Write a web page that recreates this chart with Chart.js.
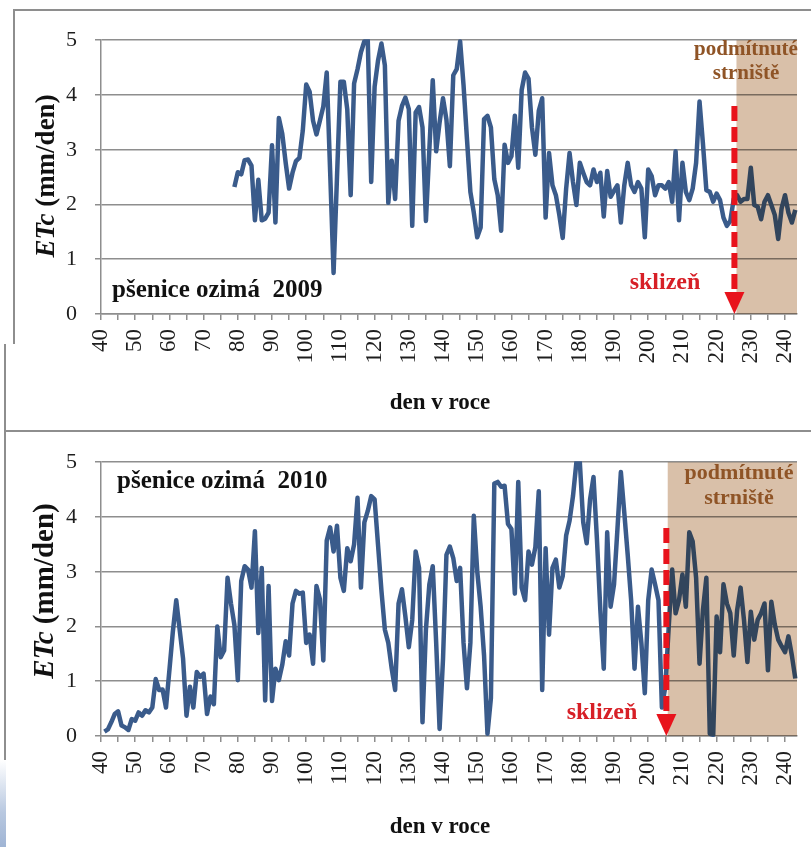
<!DOCTYPE html>
<html>
<head>
<meta charset="utf-8">
<script src="https://cdn.jsdelivr.net/npm/chart.js@4.4.1/dist/chart.umd.min.js"></script>
<style>
  body { margin: 0; width: 811px; height: 847px; background: #fff; position: relative; overflow: hidden; }
  canvas { position: absolute; }
  .ln { position: absolute; background: #8e8e8e; }
  .slide { position: absolute; left: 0; top: 760px; width: 6px; height: 87px;
           background: linear-gradient(#ffffff, #b8c8e0 60%, #9fb4d4); }
</style>
</head>
<body>
<div class="ln" style="left:13px;top:9px;width:798px;height:1.5px"></div>
<div class="ln" style="left:13px;top:9px;width:1.5px;height:335px"></div>
<div class="ln" style="left:4px;top:344px;width:1.5px;height:503px"></div>
<div class="ln" style="left:4px;top:430px;width:807px;height:1.5px"></div>
<div class="slide"></div>
<canvas id="c2009" width="798" height="421" style="left:13px;top:9px"></canvas>
<canvas id="c2010" width="807" height="416" style="left:4px;top:431px"></canvas>
<script>
// ETc (mm/den), one value per day of year
const start2009 = 79;
const etc2009 = [
  2.32, 2.59, 2.55, 2.81, 2.82, 2.71, 1.71, 2.45, 1.71, 1.74,
  1.85, 3.08, 1.67, 3.58, 3.29, 2.76, 2.29, 2.58, 2.79, 2.85,
  3.35, 4.19, 4.06, 3.53, 3.28, 3.53, 3.79, 4.41, 2.6, 0.75,
  2.5, 4.24, 4.24, 3.74, 2.17, 4.21, 4.47, 4.78, 4.98, 5.0,
  2.41, 4.15, 4.63, 4.94, 4.54, 2.03, 2.8, 2.1, 3.53, 3.8,
  3.95, 3.74, 1.61, 3.68, 3.78, 3.41, 1.70, 3.0, 4.27, 2.97,
  3.5, 3.94, 3.55, 2.70, 4.36, 4.47, 4.98, 4.18, 3.2, 2.23,
  1.85, 1.40, 1.58, 3.56, 3.62, 3.41, 2.46, 2.17, 1.52, 3.09,
  2.76, 2.88, 3.62, 2.67, 4.09, 4.41, 4.30, 3.41, 2.91, 3.71,
  3.94, 1.76, 2.94, 2.35, 2.17, 1.81, 1.39, 2.29, 2.94, 2.41,
  1.99, 2.76, 2.58, 2.41, 2.35, 2.64, 2.41, 2.58, 1.78, 2.61,
  2.14, 2.25, 2.35, 1.67, 2.35, 2.76, 2.35, 2.23, 2.41, 2.29,
  1.40, 2.64, 2.52, 2.17, 2.35, 2.35, 2.29, 2.41, 2.05, 2.97,
  1.71, 2.76, 2.23, 2.08, 2.29, 2.76, 3.88, 3.11, 2.26, 2.23,
  2.05, 2.2, 2.08, 1.76, 1.61, 1.70, 2.1, 2.17, 2.05, 2.1,
  2.1, 2.67, 1.99, 1.96, 1.73, 2.05, 2.17, 1.99, 1.81, 1.37,
  1.93, 2.17, 1.85, 1.67, 1.90
];

const start2010 = 41;
const etc2010 = [
  0.08, 0.12, 0.25, 0.40, 0.45, 0.19, 0.16, 0.11, 0.31, 0.28,
  0.43, 0.37, 0.47, 0.43, 0.52, 1.04, 0.84, 0.85, 0.52, 1.2,
  1.9, 2.48, 1.94, 1.41, 0.37, 0.9, 0.52, 1.17, 1.08, 1.14,
  0.40, 0.72, 0.58, 2.0, 1.44, 1.56, 2.89, 2.42, 2.03, 1.02,
  2.83, 3.10, 3.04, 2.71, 3.74, 1.88, 3.07, 0.65, 2.74, 0.64,
  1.23, 1.02, 1.3, 1.73, 1.47, 2.42, 2.65, 2.6, 2.62, 1.70,
  1.85, 1.32, 2.74, 2.5, 1.38, 3.57, 3.81, 3.37, 3.84, 2.89,
  2.65, 3.43, 3.19, 3.5, 4.35, 2.71, 3.90, 4.11, 4.38, 4.32,
  3.49, 2.65, 1.94, 1.70, 1.23, 0.84, 2.42, 2.68, 2.18, 1.62,
  2.12, 3.37, 3.07, 0.25, 1.94, 2.77, 3.10, 1.70, 0.13, 1.41,
  3.31, 3.46, 3.25, 2.83, 3.07, 1.70, 0.87, 1.70, 4.02, 3.01,
  2.36, 1.47, 0.04, 0.69, 4.61, 4.64, 4.55, 4.57, 3.87, 3.78,
  2.60, 4.64, 2.71, 2.48, 3.37, 3.13, 3.45, 4.47, 0.84, 3.43,
  1.85, 3.07, 3.22, 2.71, 2.92, 3.66, 3.93, 4.38, 5.0, 5.0,
  3.90, 3.52, 4.32, 4.73, 3.60, 2.30, 1.23, 3.72, 2.36, 2.77,
  3.78, 4.82, 4.08, 3.31, 2.48, 1.23, 2.36, 1.70, 0.78, 2.48,
  3.04, 2.77, 2.48, 0.52, 0.9, 2.0, 3.04, 2.24, 2.48, 2.95,
  2.36, 3.72, 3.55, 2.89, 1.32, 2.30, 2.89, 0.04, 0.02, 2.18,
  1.53, 2.77, 2.42, 2.24, 1.47, 2.30, 2.71, 2.12, 1.35, 2.27,
  1.76, 2.12, 2.24, 2.42, 1.20, 2.45, 2.04, 1.76, 1.64, 1.53,
  1.82, 1.47, 1.05
];

const dayMin = 40, dayMax = 243.5;
const etcMax = 5;

const SERIF = '"Liberation Serif", "Times New Roman", serif';
const GRID = '#8e8e8e';

function label(ctx, str, x, y, size, color, align) {
  ctx.font = 'bold ' + size + 'px ' + SERIF;
  ctx.fillStyle = color;
  ctx.textAlign = align || 'center';
  ctx.textBaseline = 'middle';
  ctx.fillText(str, x, y);
}

// shading, harvest arrow and all the free texts
const overlay = {
  id: 'overlay',
  afterDatasetsDraw(chart, args, o) {
    const { ctx, chartArea: a, scales: { x, y } } = chart;
    const ox = o.left, oy = o.top;
    ctx.save();

    ctx.globalCompositeOperation = 'multiply';
    ctx.fillStyle = '#d9c0a9';
    const sx = x.getPixelForValue(o.shadeFrom);
    ctx.fillRect(sx, a.top, a.right - sx, a.bottom - a.top);
    ctx.globalCompositeOperation = 'source-over';

    const hx = x.getPixelForValue(o.harvest);
    const top = y.getPixelForValue(o.arrowTop);
    const tip = y.getPixelForValue(0);
    ctx.strokeStyle = '#e8131c';
    ctx.lineWidth = 6;
    ctx.setLineDash([15, 6]);
    ctx.beginPath();
    ctx.moveTo(hx, top);
    ctx.lineTo(hx, tip - 20);
    ctx.stroke();
    ctx.setLineDash([]);
    ctx.fillStyle = '#e8131c';
    ctx.beginPath();
    ctx.moveTo(hx - 10, tip - 22);
    ctx.lineTo(hx + 10, tip - 22);
    ctx.lineTo(hx, tip);
    ctx.closePath();
    ctx.fill();

    label(ctx, o.crop, o.cropPos[0] - ox, o.cropPos[1] - oy, 25, '#111', 'left');
    label(ctx, 'sklizeň', o.harvestText[0] - ox, o.harvestText[1] - oy, 24, '#d71f26');
    label(ctx, 'podmítnuté', o.stubble[0] - ox, o.stubble[1] - oy, o.stubbleSize, '#8f5426');
    label(ctx, 'strniště', o.stubble[0] - ox, o.stubble[1] + o.stubbleGap - oy, o.stubbleSize, '#8f5426');
    label(ctx, 'den v roce', o.xTitle[0] - ox, o.xTitle[1] - oy, 23, '#111');

    // y title: italic "ETc" + upright " (mm/den)"
    const fs = o.yTitleSize;
    const f1 = 'italic bold ' + fs + 'px ' + SERIF, f2 = 'bold ' + fs + 'px ' + SERIF;
    ctx.font = f1; const w1 = ctx.measureText('ETc').width;
    ctx.font = f2; const w2 = ctx.measureText(' (mm/den)').width;
    ctx.translate(o.yTitle[0] - ox, o.yTitle[1] - oy);
    ctx.rotate(-Math.PI / 2);
    ctx.fillStyle = '#111';
    ctx.textAlign = 'left';
    ctx.textBaseline = 'middle';
    ctx.font = f1; ctx.fillText('ETc', -(w1 + w2) / 2, 0);
    ctx.font = f2; ctx.fillText(' (mm/den)', -(w1 + w2) / 2 + w1, 0);
    ctx.restore();
  }
};

function makeChart(id, start, values, yWidth, xHeight, padTop, ov) {
  return new Chart(document.getElementById(id), {
    type: 'line',
    data: {
      datasets: [{
        data: values.map((v, i) => ({ x: start + i, y: v })),
        borderColor: '#3a5b8b',
        borderWidth: 4.5,
        borderJoinStyle: 'round',
        pointRadius: 0,
        tension: 0,
        clip: 1
      }]
    },
    options: {
      responsive: false,
      animation: false,
      events: [],
      layout: { padding: { top: padTop, right: 14, left: 0, bottom: 0 } },
      plugins: { legend: { display: false }, tooltip: { enabled: false }, overlay: ov },
      scales: {
        x: {
          type: 'linear',
          min: dayMin,
          max: dayMax,
          afterFit: s => { s.height = xHeight; s.paddingLeft = 0; s.paddingRight = 0; },
          grid: { display: true, drawOnChartArea: false, drawTicks: true, tickLength: 6, color: GRID, lineWidth: 1.5 },
          border: { display: true, color: GRID, width: 1.5 },
          ticks: {
            stepSize: 5,
            includeBounds: false,
            autoSkip: false,
            minRotation: 90,
            maxRotation: 90,
            padding: 9,
            color: '#1e1e1e',
            font: { family: SERIF, size: 23 },
            callback: v => (v % 10 === 0 ? String(v) : '')
          }
        },
        y: {
          min: 0,
          max: etcMax,
          afterFit: s => { s.width = yWidth; },
          grid: { color: GRID, lineWidth: 1.5, tickLength: 6 },
          border: { display: true, color: GRID, width: 1.5 },
          ticks: { stepSize: 1, padding: 18, color: '#1e1e1e', font: { family: SERIF, size: 22 } }
        }
      }
    },
    plugins: [overlay]
  });
}

makeChart('c2009', start2009, etc2009, 88, 116, 23, {
  left: 13, top: 9,
  shadeFrom: 225.8, harvest: 225.2, arrowTop: 3.8,
  crop: 'pšenice ozimá  2009', cropPos: [112, 291],
  harvestText: [665, 283],
  stubble: [746, 50], stubbleGap: 24, stubbleSize: 21,
  xTitle: [440, 403],
  yTitle: [47, 176], yTitleSize: 27
});

makeChart('c2010', start2010, etc2010, 97, 111, 24, {
  left: 4, top: 431,
  shadeFrom: 205.7, harvest: 205.3, arrowTop: 3.8,
  crop: 'pšenice ozimá  2010', cropPos: [117, 482],
  harvestText: [602, 713],
  stubble: [739, 473], stubbleGap: 25, stubbleSize: 22,
  xTitle: [440, 827],
  yTitle: [46, 591], yTitleSize: 29
});
</script>
</body>
</html>
